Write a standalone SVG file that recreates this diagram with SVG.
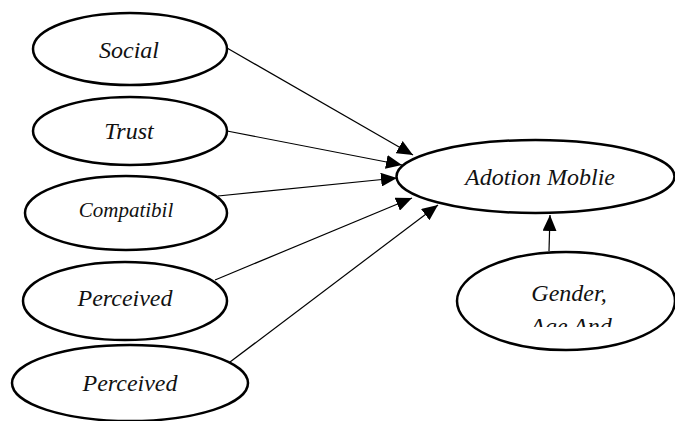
<svg xmlns="http://www.w3.org/2000/svg" width="675" height="421" viewBox="0 0 675 421">
<style>
.n{fill:#fff;stroke:#000;stroke-width:2.5}
.t{font-family:"Liberation Serif","Times New Roman",serif;font-style:italic;font-size:24px;fill:#111;text-anchor:middle}
.e{stroke:#000;stroke-width:1.2;fill:none;marker-end:url(#ah)}
</style>
<defs>
<marker id="ah" markerUnits="userSpaceOnUse" markerWidth="16" markerHeight="14" refX="16" refY="7" orient="auto">
<path d="M0,0 L16,7 L0,14 z" fill="#000"/>
</marker>
<clipPath id="gc"><rect x="450" y="250" width="225" height="77"/></clipPath>
</defs>
<rect width="675" height="421" fill="#fff"/>
<g id="connectors">
<line class="e" x1="227" y1="48" x2="413" y2="155"/>
<line class="e" x1="227" y1="131" x2="402" y2="165"/>
<line class="e" x1="218" y1="196" x2="397" y2="178"/>
<line class="e" x1="215" y1="280" x2="412" y2="198"/>
<line class="e" x1="230" y1="362" x2="438" y2="205"/>
<line class="e" x1="549" y1="251" x2="550" y2="215"/>
</g>
<g id="social"><ellipse class="n" cx="130" cy="49" rx="97" ry="36"/><text class="t" x="129" y="58">Social</text></g>
<g id="trust"><ellipse class="n" cx="130" cy="131" rx="97" ry="34"/><text class="t" x="129" y="139">Trust</text></g>
<g id="compatibil"><ellipse class="n" cx="126" cy="213" rx="101" ry="37"/><text class="t" x="126" y="217" style="font-size:21px">Compatibil</text></g>
<g id="perceived1"><ellipse class="n" cx="125" cy="301" rx="102" ry="39"/><text class="t" x="125" y="306">Perceived</text></g>
<g id="perceived2"><ellipse class="n" cx="130" cy="383" rx="118" ry="38"/><text class="t" x="130" y="391">Perceived</text></g>
<g id="adoption"><ellipse class="n" cx="535.5" cy="176.5" rx="139" ry="36.5"/><text class="t" x="540" y="185">Adotion Moblie</text></g>
<g id="gender"><ellipse class="n" cx="566" cy="301" rx="109" ry="49"/><text class="t" x="569" y="301">Gender,</text><text class="t" x="571" y="334" clip-path="url(#gc)">Age And</text></g>
</svg>
